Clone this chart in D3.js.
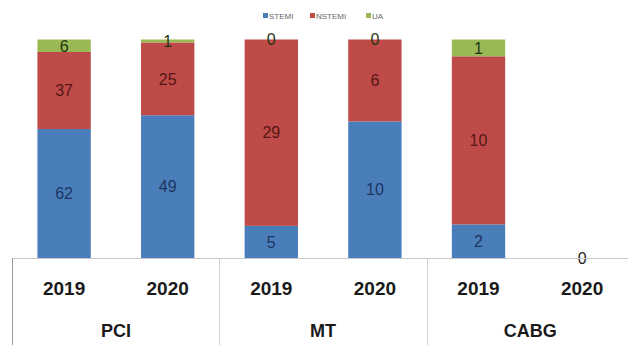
<!DOCTYPE html>
<html>
<head>
<meta charset="utf-8">
<script src="https://cdn.jsdelivr.net/npm/d3@7"></script>
<style>
  html, body { margin: 0; padding: 0; background: #fff; }
  svg { display: block; }
</style>
</head>
<body>
<svg id="chart" width="628" height="348"></svg>
<script>
// Procedures and years along the x axis
const groups = ["PCI", "MT", "CABG"];
const years = ["2019", "2020"];
const seriesNames = ["STEMI", "NSTEMI", "UA"];

// Case counts per bar, order: PCI 2019, PCI 2020, MT 2019, MT 2020, CABG 2019, CABG 2020
const stemi  = [62, 49, 5, 10, 2, 0];
const nstemi = [37, 25, 29, 6, 10, 0];
const ua     = [6, 1, 0, 0, 1, 0];

const colors = ["#4a7ebb", "#be4b48", "#98b954"];
const labelColors = ["#1c3560", "#561616", "#1f3512"];

const bars = [];
groups.forEach((g, gi) => years.forEach((y, yi) => {
  const i = gi * years.length + yi;
  bars.push({ key: g + "-" + y, group: g, year: y, STEMI: stemi[i], NSTEMI: nstemi[i], UA: ua[i] });
}));
const totalOf = b => b.STEMI + b.NSTEMI + b.UA;

// 100% stacking; a bar with no cases sits flat on the axis
const normalized = bars.map(b => {
  const tot = totalOf(b);
  const o = { key: b.key };
  seriesNames.forEach(s => { o[s] = tot ? b[s] / tot : 0; });
  return o;
});
const stacked = d3.stack().keys(seriesNames)(normalized);

const svg = d3.select("#chart");
const plotLeft = 12.3, plotRight = 12.3 + 6 * 103.6;
const plotTop = 39.5, plotBottom = 258;

const x = d3.scaleBand().domain(bars.map(b => b.key)).range([plotLeft, plotRight])
  .paddingInner(0.485).paddingOuter(0.2425);
const yScale = d3.scaleLinear().domain([0, 1]).range([plotBottom, plotTop]);

// Bars
const layer = svg.append("g").selectAll("g").data(stacked).join("g")
  .attr("fill", (d, i) => colors[i]);
layer.selectAll("rect").data(d => d).join("rect")
  .attr("x", d => x(d.data.key))
  .attr("width", x.bandwidth())
  .attr("y", d => yScale(d[1]))
  .attr("height", d => yScale(d[0]) - yScale(d[1]));

// Value labels, centred on each segment
stacked.forEach((s, si) => {
  svg.append("g").selectAll("text").data(s).join("text")
    .filter((d, i) => !(totalOf(bars[i]) === 0 && si > 0))
    .attr("x", d => x(d.data.key) + x.bandwidth() / 2)
    .attr("y", d => (yScale(d[0]) + yScale(d[1])) / 2)
    .attr("dy", "0.36em")
    .attr("text-anchor", "middle")
    .attr("font-family", "Liberation Sans, Arial, sans-serif")
    .attr("font-size", 16)
    .attr("fill", d => totalOf(bars[s.indexOf(d)]) === 0 ? "#222" : labelColors[si])
    .text(d => bars[s.indexOf(d)][s.key]);
});

// Category axis: baseline and group separators
const axis = svg.append("g").attr("stroke", "#c8c8c8").attr("stroke-width", 1);
axis.append("line").attr("x1", plotLeft).attr("x2", 628)
  .attr("y1", plotBottom + 0.5).attr("y2", plotBottom + 0.5);
const groupBand = d3.scaleBand().domain(groups).range([plotLeft, plotRight]);
groups.forEach(g => {
  axis.append("line")
    .attr("x1", Math.round(groupBand(g)) + 0.5).attr("x2", Math.round(groupBand(g)) + 0.5)
    .attr("y1", plotBottom).attr("y2", 345)
    .attr("stroke", g === groups[0] ? "#999" : "#d0d0d0");
});

// Year labels
svg.append("g").selectAll("text").data(bars).join("text")
  .attr("x", d => x(d.key) + x.bandwidth() / 2)
  .attr("y", 288)
  .attr("dy", "0.36em")
  .attr("text-anchor", "middle")
  .attr("font-family", "Liberation Sans, Arial, sans-serif")
  .attr("font-weight", "bold")
  .attr("font-size", 19)
  .attr("fill", "#1a1a1a")
  .text(d => d.year);

// Group labels
svg.append("g").selectAll("text").data(groups).join("text")
  .attr("x", g => groupBand(g) + groupBand.bandwidth() / 2)
  .attr("y", 331)
  .attr("dy", "0.36em")
  .attr("text-anchor", "middle")
  .attr("font-family", "Liberation Sans, Arial, sans-serif")
  .attr("font-weight", "bold")
  .attr("font-size", 18)
  .attr("fill", "#1a1a1a")
  .text(g => g);

// Legend
const legendX = [263, 310, 366];
const legend = svg.append("g").selectAll("g").data(seriesNames).join("g")
  .attr("transform", (d, i) => `translate(${legendX[i]},16)`);
legend.append("rect").attr("x", 0).attr("y", -3).attr("width", 5).attr("height", 5)
  .attr("fill", (d, i) => colors[i]);
legend.append("text").attr("x", 6).attr("y", 0).attr("dy", "0.35em")
  .attr("font-family", "Liberation Sans, Arial, sans-serif")
  .attr("font-size", 8)
  .attr("fill", "#666")
  .text(d => d);
</script>
</body>
</html>
